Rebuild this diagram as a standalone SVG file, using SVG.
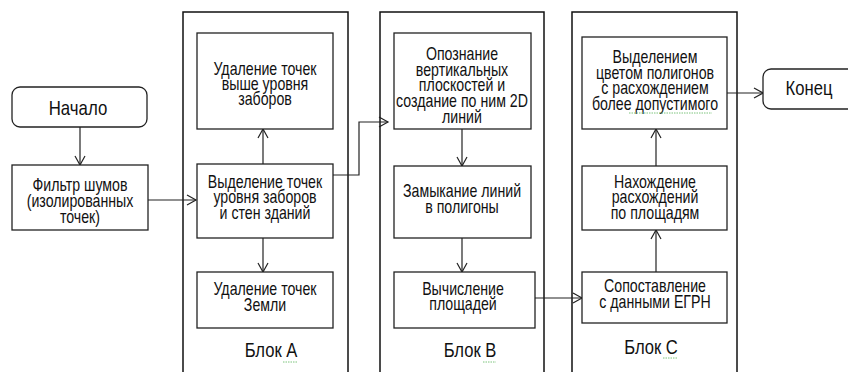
<svg xmlns="http://www.w3.org/2000/svg" width="848" height="372" viewBox="0 0 848 372">
<style>
.blk{fill:none;stroke:#111;stroke-width:1.5}
.box{fill:#fff;stroke:#222;stroke-width:1.3}
.t{font-family:"Liberation Sans","Arial",sans-serif;font-size:17.5px;fill:#111;text-anchor:middle}
.big{font-size:20px}
.c{fill:none;stroke:#222;stroke-width:1.2}
.sq{fill:none;stroke:#7cc47c;stroke-width:1;stroke-dasharray:1.5 1}
</style>
<defs>
<marker id="ah" markerWidth="12" markerHeight="12" refX="10" refY="6" orient="auto" markerUnits="userSpaceOnUse">
<path d="M1,1 L10,6 L1,11" fill="none" stroke="#222" stroke-width="1.2"/>
</marker>
</defs>
<g id="blocks">
<rect class="blk" x="183" y="12" width="165" height="380"/>
<rect class="blk" x="380" y="12" width="164" height="380"/>
<rect class="blk" x="572" y="12" width="165" height="380"/>
</g>
<g id="connectors">
<line class="c" x1="80" y1="127" x2="80" y2="165" marker-end="url(#ah)"/>
<line class="c" x1="148" y1="200" x2="196" y2="200" marker-end="url(#ah)"/>
<line class="c" x1="263" y1="164" x2="263" y2="129" marker-end="url(#ah)"/>
<line class="c" x1="263" y1="238" x2="263" y2="272" marker-end="url(#ah)"/>
<polyline class="c" points="333,175 359,175 359,122 388,122" marker-end="url(#ah)"/>
<line class="c" x1="462" y1="129" x2="462" y2="166" marker-end="url(#ah)"/>
<line class="c" x1="462" y1="238" x2="462" y2="272" marker-end="url(#ah)"/>
<line class="c" x1="535" y1="298" x2="582" y2="298" marker-end="url(#ah)"/>
<line class="c" x1="656" y1="272" x2="656" y2="230" marker-end="url(#ah)"/>
<line class="c" x1="656" y1="166" x2="656" y2="129" marker-end="url(#ah)"/>
<line class="c" x1="727" y1="93" x2="763" y2="93" marker-end="url(#ah)"/>
</g>
<g id="start">
<rect class="box" x="12" y="87" width="135" height="40" rx="8"/>
<g transform="translate(78,0) scale(0.84,1)"><text class="t big" x="0" y="115">Начало</text></g>
</g>
<g id="filter">
<rect class="box" x="12" y="165" width="136" height="65"/>
<g transform="translate(80,0) scale(0.81,1)">
<text class="t" y="191"><tspan x="0">Фильтр шумов</tspan><tspan x="0" dy="16">(изолированных</tspan><tspan x="0" dy="16">точек)</tspan></text>
</g>
</g>
<g id="a1">
<rect class="box" x="197" y="33" width="136" height="96"/>
<g transform="translate(265,0) scale(0.81,1)">
<text class="t" y="75"><tspan x="0">Удаление точек</tspan><tspan x="0" dy="15">выше уровня</tspan><tspan x="0" dy="15">заборов</tspan></text>
</g>
</g>
<g id="a2">
<rect class="box" x="197" y="164" width="136" height="74"/>
<g transform="translate(265,0) scale(0.81,1)">
<text class="t" y="188"><tspan x="0">Выделение точек</tspan><tspan x="0" dy="15.5">уровня заборов</tspan><tspan x="0" dy="15.5">и стен зданий</tspan></text>
</g>
</g>
<g id="a3">
<rect class="box" x="197" y="272" width="136" height="56"/>
<g transform="translate(265,0) scale(0.81,1)">
<text class="t" y="295"><tspan x="0">Удаление точек</tspan><tspan x="0" dy="16">Земли</tspan></text>
</g>
</g>
<g id="blockA-label">
<g transform="translate(271,0) scale(0.83,1)"><text class="t big" x="0" y="357">Блок А</text></g>
<line class="sq" x1="283" y1="362" x2="297" y2="362"/>
</g>
<g id="b1">
<rect class="box" x="394" y="33" width="137" height="96"/>
<g transform="translate(462,0) scale(0.81,1)">
<text class="t" y="60"><tspan x="0">Опознание</tspan><tspan x="0" dy="15.75">вертикальных</tspan><tspan x="0" dy="15.75">плоскостей и</tspan><tspan x="0" dy="15.75">создание по ним 2D</tspan><tspan x="0" dy="15.75">линий</tspan></text>
</g>
</g>
<g id="b2">
<rect class="box" x="394" y="166" width="137" height="72"/>
<g transform="translate(462,0) scale(0.81,1)">
<text class="t" y="197"><tspan x="0">Замыкание линий</tspan><tspan x="0" dy="16">в полигоны</tspan></text>
</g>
</g>
<g id="b3">
<rect class="box" x="394" y="272" width="141" height="56"/>
<g transform="translate(463,0) scale(0.81,1)">
<text class="t" y="295"><tspan x="0">Вычисление</tspan><tspan x="0" dy="15.5">площадей</tspan></text>
</g>
</g>
<g id="blockB-label">
<g transform="translate(470,0) scale(0.83,1)"><text class="t big" x="0" y="357">Блок В</text></g>
<line class="sq" x1="483" y1="362" x2="496" y2="362"/>
</g>
<g id="c1">
<rect class="box" x="582" y="37" width="145" height="92"/>
<g transform="translate(655,0) scale(0.81,1)">
<text class="t" y="63"><tspan x="0">Выделением</tspan><tspan x="0" dy="15.7">цветом полигонов</tspan><tspan x="0" dy="15.7">с расхождением</tspan><tspan x="0" dy="15.7">более допустимого</tspan></text>
</g>
<line class="sq" x1="629" y1="113" x2="712" y2="113"/>
</g>
<g id="c2">
<rect class="box" x="582" y="166" width="145" height="64"/>
<g transform="translate(655,0) scale(0.81,1)">
<text class="t" y="188"><tspan x="0">Нахождение</tspan><tspan x="0" dy="15.5">расхождений</tspan><tspan x="0" dy="15.5">по площадям</tspan></text>
</g>
</g>
<g id="c3">
<rect class="box" x="582" y="272" width="145" height="51"/>
<g transform="translate(655,0) scale(0.81,1)">
<text class="t" y="292"><tspan x="0">Сопоставление</tspan><tspan x="0" dy="16">с данными ЕГРН</tspan></text>
</g>
</g>
<g id="blockC-label">
<g transform="translate(651,0) scale(0.83,1)"><text class="t big" x="0" y="354">Блок С</text></g>
<line class="sq" x1="663" y1="358" x2="677" y2="358"/>
</g>
<g id="end">
<rect class="box" x="763" y="69" width="110" height="40" rx="8"/>
<g transform="translate(809,0) scale(0.83,1)"><text class="t big" x="0" y="95">Конец</text></g>
</g>
</svg>
